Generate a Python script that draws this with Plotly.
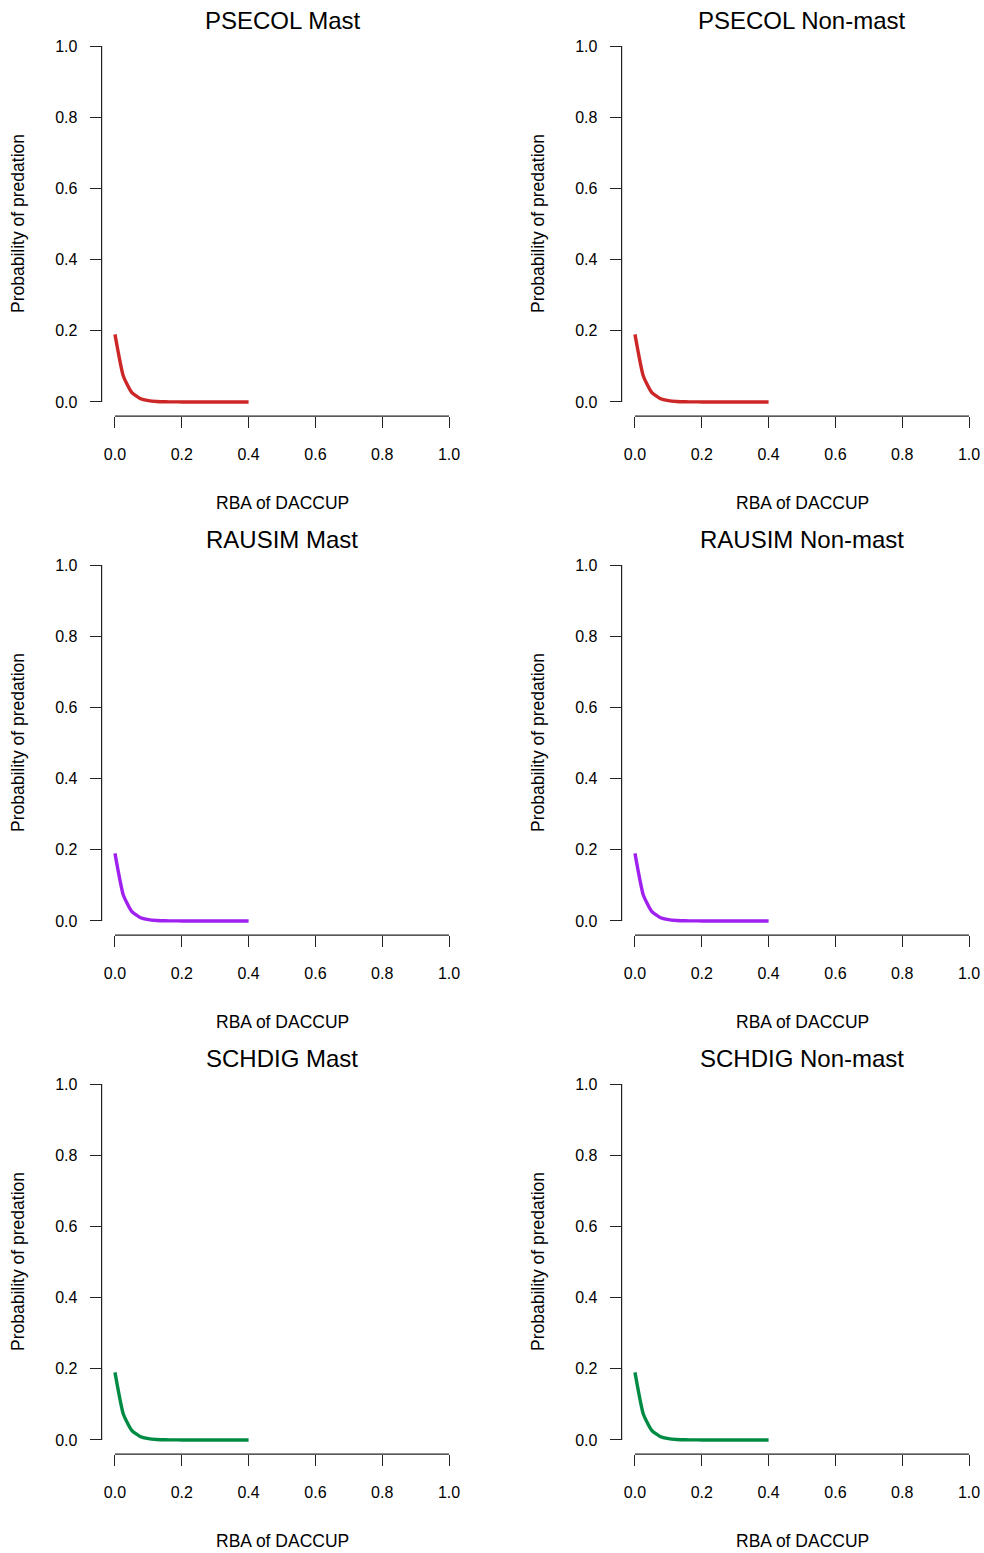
import plotly.graph_objects as go

# ---- data ----
rba_daccup = [0.0, 0.025, 0.05, 0.075, 0.1, 0.125, 0.15, 0.175, 0.2, 0.225,
              0.25, 0.275, 0.3, 0.325, 0.35, 0.375, 0.4]
psecol_mast = [0.19, 0.073, 0.027, 0.0098, 0.0036, 0.0013, 0.0005, 0.0002, 0.0001,
               0.00003, 0.00001, 0.0, 0.0, 0.0, 0.0, 0.0, 0.0]
psecol_nonmast = [0.19, 0.073, 0.027, 0.0098, 0.0036, 0.0013, 0.0005, 0.0002, 0.0001,
                  0.00003, 0.00001, 0.0, 0.0, 0.0, 0.0, 0.0, 0.0]
rausim_mast = [0.19, 0.073, 0.027, 0.0098, 0.0036, 0.0013, 0.0005, 0.0002, 0.0001,
               0.00003, 0.00001, 0.0, 0.0, 0.0, 0.0, 0.0, 0.0]
rausim_nonmast = [0.19, 0.073, 0.027, 0.0098, 0.0036, 0.0013, 0.0005, 0.0002, 0.0001,
                  0.00003, 0.00001, 0.0, 0.0, 0.0, 0.0, 0.0, 0.0]
schdig_mast = [0.19, 0.073, 0.027, 0.0098, 0.0036, 0.0013, 0.0005, 0.0002, 0.0001,
               0.00003, 0.00001, 0.0, 0.0, 0.0, 0.0, 0.0, 0.0]
schdig_nonmast = [0.19, 0.073, 0.027, 0.0098, 0.0036, 0.0013, 0.0005, 0.0002, 0.0001,
                  0.00003, 0.00001, 0.0, 0.0, 0.0, 0.0, 0.0, 0.0]

panel_titles = ["PSECOL Mast", "PSECOL Non-mast",
                "RAUSIM Mast", "RAUSIM Non-mast",
                "SCHDIG Mast", "SCHDIG Non-mast"]
panel_series = [psecol_mast, psecol_nonmast, rausim_mast, rausim_nonmast,
                schdig_mast, schdig_nonmast]
panel_colors = ["#CD2626", "#CD2626", "#A020F0", "#A020F0", "#008B45", "#008B45"]
tick_vals = [0.0, 0.2, 0.4, 0.6, 0.8, 1.0]
tick_text = ["0.0", "0.2", "0.4", "0.6", "0.8", "1.0"]
x_label = "RBA of DACCUP"
y_label = "Probability of predation"

# ---- layout geometry ----
W, H = 984, 1553
FONT = "Liberation Sans, Arial, sans-serif"
plot_left0, plot_right0 = 101.6, 462.4
plot_top0, plot_bot0 = 31.8, 416.2
col_step, row_step = 520, 519

fig = go.Figure()
layout = dict(
    width=W, height=H,
    margin=dict(l=0, r=0, t=0, b=0),
    paper_bgcolor="white", plot_bgcolor="white",
    showlegend=False,
    font=dict(family=FONT, color="black"),
)
shapes = []
annotations = []

for i in range(6):
    r, c = divmod(i, 2)
    n = "" if i == 0 else str(i + 1)
    xa, ya = "x" + n, "y" + n
    left = plot_left0 + c * col_step
    right = plot_right0 + c * col_step
    top = plot_top0 + r * row_step
    bot = plot_bot0 + r * row_step

    fig.add_trace(go.Scatter(
        x=rba_daccup, y=panel_series[i], mode="lines",
        line=dict(color=panel_colors[i], width=3.4, shape="spline", smoothing=0.5),
        xaxis=xa, yaxis=ya, hoverinfo="skip"))

    axis_common = dict(
        range=[-0.04, 1.04], showgrid=False, zeroline=False, showline=False,
        ticks="outside", ticklen=11, tickwidth=1.2, tickcolor="#222",
        tickvals=tick_vals, ticktext=tick_text,
        tickfont=dict(family=FONT, size=16, color="black"),
        fixedrange=True,
    )
    layout["xaxis" + n] = dict(axis_common, domain=[left / W, right / W],
                               anchor=ya, ticklabelstandoff=13)
    layout["yaxis" + n] = dict(axis_common, domain=[1 - bot / H, 1 - top / H],
                               anchor=xa, ticklabelstandoff=9)

    # R-style axis lines spanning only the tick range
    shapes.append(dict(type="line", xref=xa, yref=ya + " domain",
                       x0=0, x1=1, y0=0, y1=0,
                       line=dict(color="#222", width=1.2)))
    shapes.append(dict(type="line", xref=xa + " domain", yref=ya,
                       x0=0, x1=0, y0=0, y1=1,
                       line=dict(color="#222", width=1.2)))

    cx = (left + right) / 2
    cy = (top + bot) / 2
    annotations.append(dict(text=panel_titles[i], x=cx / W, y=1 - (20 + r * row_step) / H,
                            xref="paper", yref="paper", showarrow=False,
                            xanchor="center", yanchor="middle",
                            font=dict(family=FONT, size=24, color="black")))
    annotations.append(dict(text=x_label, x=cx / W, y=1 - (503 + r * row_step) / H,
                            xref="paper", yref="paper", showarrow=False,
                            xanchor="center", yanchor="middle",
                            font=dict(family=FONT, size=17.5, color="black")))
    annotations.append(dict(text=y_label, x=(18 + c * col_step) / W, y=1 - cy / H,
                            xref="paper", yref="paper", showarrow=False,
                            textangle=-90, xanchor="center", yanchor="middle",
                            font=dict(family=FONT, size=17.5, color="black")))

layout["shapes"] = shapes
layout["annotations"] = annotations
fig.update_layout(**layout)
fig.write_html("out.html")
